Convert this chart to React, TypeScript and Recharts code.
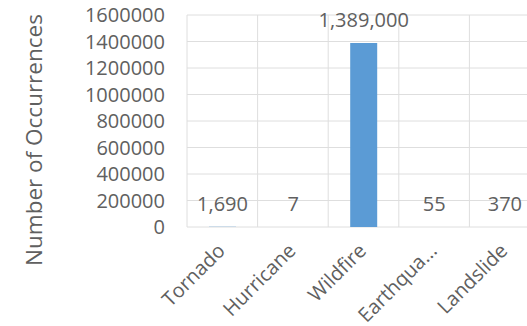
import { Bar, BarChart, CartesianGrid, LabelList, XAxis, YAxis } from 'recharts'

const hazards = ['Tornado', 'Hurricane', 'Wildfire', 'Earthquake', 'Landslide']
const occurrences = [1690, 7, 1389000, 55, 370]
const yTicks = [0, 200000, 400000, 600000, 800000, 1000000, 1200000, 1400000, 1600000]

const data = hazards.map((name, i) => ({ name, value: occurrences[i] }))

const textColor = '#606060'
const gridColor = '#dedede'
const barColor = '#5b9bd5'
const font = '"Open Sans", sans-serif'

// long category names get cut like Excel does
const shorten = (s: string) => (s.length > 9 ? s.slice(0, 8) + '...' : s)

function HazardTick(props: any) {
  const { x, y, payload } = props
  return (
    <g transform={`translate(${x + 4},${y + 17})`}>
      <text
        transform="rotate(-45)"
        textAnchor="end"
        fill={textColor}
        fontSize={20}
        fontFamily={font}
      >
        {shorten(payload.value)}
      </text>
    </g>
  )
}

function AxisTitle() {
  return (
    <text
      transform="translate(33,140) rotate(-90)"
      textAnchor="middle"
      dominantBaseline="central"
      fill={textColor}
      fontSize={22.5}
      fontFamily={font}
    >
      Number of Occurrences
    </text>
  )
}

export default function App() {
  return (
    <div
      style={{
        position: 'absolute',
        top: 0,
        left: 0,
        width: 527,
        height: 326,
        overflow: 'hidden',
        background: '#fff',
      }}
    >
      <BarChart
        width={540}
        height={326}
        data={data}
        margin={{ top: 15, right: 0, bottom: 0, left: 0 }}
      >
        <CartesianGrid
          stroke={gridColor}
          verticalCoordinatesGenerator={({ offset }: any) =>
            hazards.concat('').map((_, i) => offset.left + (i * offset.width) / hazards.length)
          }
        />
        <XAxis
          dataKey="name"
          height={99}
          axisLine={false}
          tickLine={false}
          interval={0}
          tick={<HazardTick />}
        />
        <YAxis
          width={187}
          domain={[0, 1600000]}
          ticks={yTicks}
          interval={0}
          axisLine={false}
          tickLine={false}
          tickSize={0}
          tickMargin={22}
          tick={{ fill: textColor, fontSize: 20, fontFamily: font }}
          label={{ content: () => <AxisTitle /> }}
        />
        <Bar dataKey="value" fill={barColor} barSize={27} isAnimationActive={false}>
          <LabelList
            dataKey="value"
            position="top"
            offset={16}
            fill={textColor}
            fontSize={20}
            fontFamily={font}
            formatter={(v: any) => Number(v).toLocaleString('en-US')}
          />
        </Bar>
      </BarChart>
    </div>
  )
}
